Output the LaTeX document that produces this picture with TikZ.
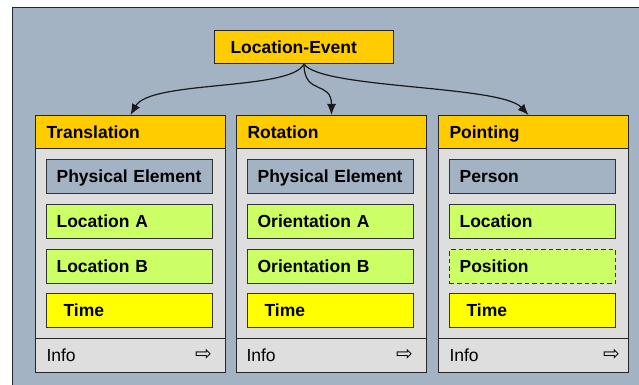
\documentclass[tikz,border=0pt]{standalone}
\usepackage{fontspec}
\setmainfont{Liberation Sans}
\newfontfamily\arrowfont{DejaVu Sans}
\usetikzlibrary{arrows.meta}
\definecolor{panelgrey}{HTML}{A3B3C3}
\definecolor{headgold}{HTML}{FFCC00}
\definecolor{bodygrey}{HTML}{DEDEDE}
\definecolor{slotgreen}{HTML}{CCFF66}
\definecolor{slotyellow}{HTML}{FFFF00}

\begin{document}
\begin{tikzpicture}[x=1pt, y=-1pt,
    every node/.style={font=\fontsize{17.5}{20}\selectfont\bfseries, inner sep=0pt},
    header/.style={draw=black!85, line width=1pt, fill=headgold, anchor=north west,
                   minimum width=190pt, minimum height=33pt, text width=168pt,
                   inner xsep=11pt, align=left, text height=12.5pt, text depth=0pt},
    colbody/.style={draw=black!85, line width=1pt, fill=bodygrey, anchor=north west,
                    minimum width=190pt, minimum height=224pt},
    inforow/.style={header, fill=bodygrey, minimum height=34pt,
                    font=\fontsize{17.5}{20}\selectfont},
    slot/.style={draw=black!80, line width=1.2pt, anchor=north west,
                 minimum width=166pt, minimum height=34pt, text width=146pt,
                 inner xsep=10pt, align=left, text height=12.5pt, text depth=0pt},
    timeslot/.style={slot, fill=slotyellow, inner xsep=17pt, text width=132pt},
    arrowmark/.style={font=\arrowfont\fontsize{20}{20}\selectfont, anchor=east},
    link/.style={-{Latex[length=11pt,width=9pt]}, line width=1.2pt, draw=black!90},
]
\useasboundingbox (0,0) rectangle (639,385);

% --- Panel background ---
\draw[fill=panelgrey, draw=black!85, line width=1pt] (12,8) rectangle (650,395);

% --- Root event ---
\node[header, minimum width=179pt, text width=147pt, inner xsep=16pt]
     (event) at (214,30) {Location-Event};

% --- Translation column ---
\node[colbody] (transbody) at (35,148) {};
\node[header] (trans) at (35,115) {Translation};
\node[inforow] (transinfo) at (35,338) {Info};
\node[arrowmark] (transmore) at (212,355) {⇨};
\node[slot, fill=panelgrey] (transelem) at (46,159) {Physical Element};
\node[slot, fill=slotgreen] (transloca) at (46,204) {Location A};
\node[slot, fill=slotgreen] (translocb) at (46,249) {Location B};
\node[timeslot] (transtime) at (46,293) {Time};

% --- Rotation column ---
\node[colbody] (rotbody) at (236,148) {};
\node[header] (rot) at (236,115) {Rotation};
\node[inforow, inner xsep=10pt, text width=170pt] (rotinfo) at (236,338) {Info};
\node[arrowmark] (rotmore) at (413,355) {⇨};
\node[slot, fill=panelgrey] (rotelem) at (247,159) {Physical Element};
\node[slot, fill=slotgreen] (rotorna) at (247,204) {Orientation A};
\node[slot, fill=slotgreen] (rotornb) at (247,249) {Orientation B};
\node[timeslot] (rottime) at (247,293) {Time};

% --- Pointing column ---
\node[colbody] (pointbody) at (438,148) {};
\node[header] (point) at (438,115) {Pointing};
\node[inforow] (pointinfo) at (438,338) {Info};
\node[arrowmark] (pointmore) at (620,355) {⇨};
\node[slot, fill=panelgrey] (pointperson) at (449,159) {Person};
\node[slot, fill=slotgreen] (pointloc) at (449,204) {Location};
\node[slot, fill=slotgreen, dash pattern=on 4.5pt off 3pt] (pointpos) at (449,249) {Position};
\node[timeslot] (pointtime) at (449,293) {Time};

% --- Links from the event to each kind ---
\draw[link] (event.south) .. controls +(-13,27) and +(20,-35) .. (trans.north);
\draw[link] (event.south) .. controls +(0,32) and +(0,-35) .. (rot.north);
\draw[link] (event.south) .. controls +(17,25) and +(-28,-30)
      .. ([xshift=-5pt]point.north);

\end{tikzpicture}
\end{document}
